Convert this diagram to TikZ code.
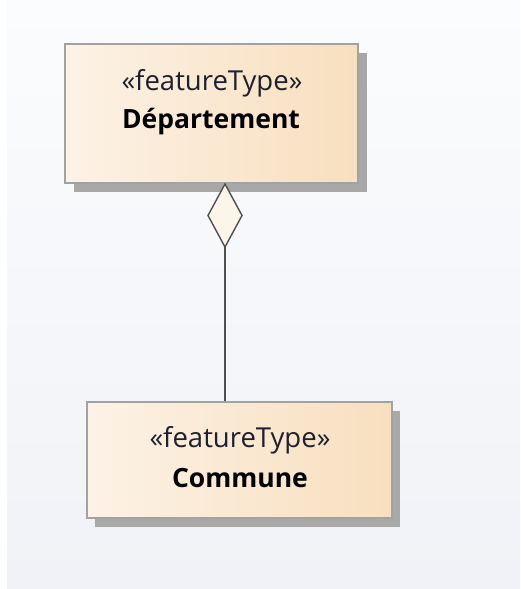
\documentclass[tikz,border=0pt]{standalone}
\usepackage{fontspec}
\setmainfont{Open Sans}
\definecolor{boxleft}{HTML}{FCF2E6}
\definecolor{boxright}{HTML}{F8DFBE}
\definecolor{boxedge}{HTML}{A2A2A2}
\definecolor{boxshadow}{HTML}{A8A8A8}
\definecolor{canvastop}{HTML}{FBFCFD}
\definecolor{canvasbottom}{HTML}{F1F2F7}
\definecolor{stereotext}{HTML}{1E2030}
\definecolor{linkgray}{HTML}{505050}
\definecolor{diamondfill}{HTML}{FDF4EA}
\begin{document}
\begin{tikzpicture}[x=1pt,y=-1pt,
  classbox/.style={draw=boxedge, line width=1.3pt, left color=boxleft, right color=boxright, shading angle=90, inner sep=0pt},
  shadowbox/.style={fill=boxshadow, draw=none},
  stereo/.style={font=\fontsize{27.5}{30}\selectfont, text=stereotext},
  cname/.style={font=\fontsize{26.5}{30}\selectfont\bfseries, text=black},
  link/.style={draw=linkgray, line width=1.4pt}]
  % canvas
  \fill[white] (0,0) rectangle (520,589);
  \shade[top color=canvastop, bottom color=canvasbottom] (7,0) rectangle (520,589);
  \useasboundingbox (0,0) rectangle (520,589);

  % Département
  \fill[shadowbox] (74,53) rectangle (367,192);
  \node[classbox, minimum width=293pt, minimum height=139pt] (dep) at (211.5,113.5) {};
  \node[stereo] (depst) at (212,83) {«featureType»};
  \node[cname] (depnm) at (211,122) {Département};

  % Commune
  \fill[shadowbox] (95,411) rectangle (400,527);
  \node[classbox, minimum width=305pt, minimum height=116pt] (com) at (239.5,460) {};
  \node[stereo] (comst) at (240,440) {«featureType»};
  \node[cname] (comnm) at (240,478) {Commune};

  % aggregation: open diamond at the whole end
  \coordinate (dtop) at (225,184);
  \coordinate (dbot) at (225,247);
  \filldraw[fill=diamondfill, draw=linkgray, line width=1.4pt, line join=miter]
    (dtop) -- (208,215.5) -- (dbot) -- (242,215.5) -- cycle;
  \draw[link] (dbot) -- (dbot |- com.north);
\end{tikzpicture}
\end{document}
